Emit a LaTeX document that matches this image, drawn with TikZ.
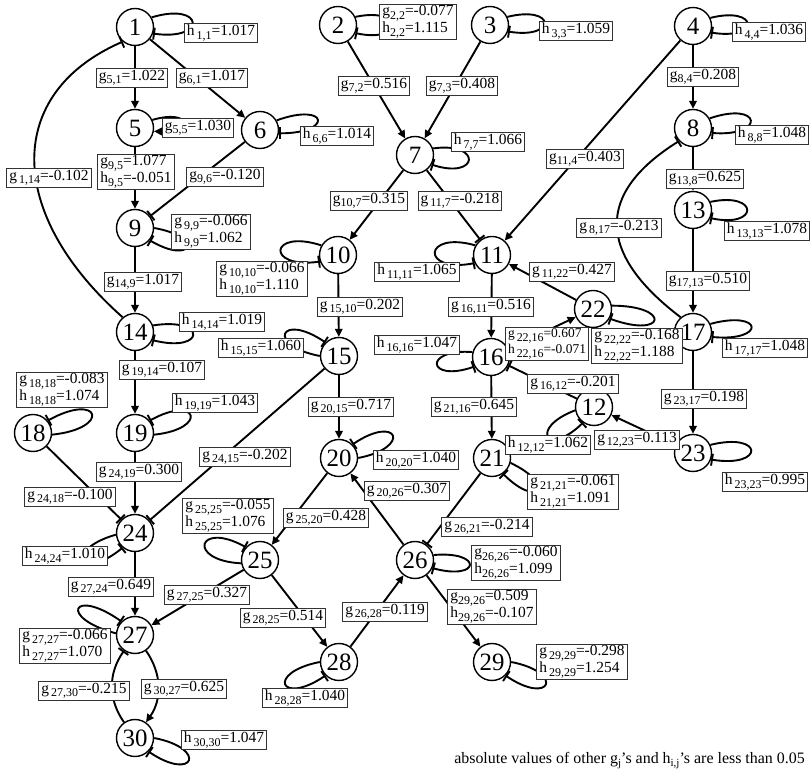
\documentclass[tikz,border=0pt]{standalone}
\usepackage{fontspec}
\setmainfont{Liberation Serif}
\usetikzlibrary{arrows.meta}
% subscripted coefficient: letter, indices, value (\gv with a small gap, \gw without)
\newcommand\sbs[1]{\raisebox{-3.5bp}{\fontsize{12}{12}\selectfont #1}}
\newcommand\gv[3]{#1\kern2bp\sbs{#2}=#3}
\newcommand\gw[3]{#1\sbs{#2}=#3}
\newcommand\ssb[1]{\raisebox{-3bp}{\fontsize{11}{11}\selectfont #1}}
% self loop: style, gene, start anchor, start direction, end anchor, end direction, reach
\newcommand\selfloop[7]{\draw[#1] (#2.#3) .. controls +(#4:#7) and +(#6:#7) .. (#2.#5);}
\begin{document}
\begin{tikzpicture}[x=1bp,y=1bp,
  nd/.style={circle,draw,fill=white,line width=1.4bp,minimum size=37bp,inner sep=0pt,font=\fontsize{25}{25}\selectfont},
  lbl/.style={draw=black!80,fill=white,line width=0.9bp,inner xsep=2.5bp,inner ysep=1.5bp,font=\fontsize{15.5}{13.5}\selectfont,align=left},
  act/.style={line width=1.9bp,-{Triangle[length=8bp,width=7.5bp]}},
  inh/.style={line width=1.9bp,-{Bar[width=12bp,line width=1.9bp]}}]
\useasboundingbox (0,0) rectangle (811,773);

% genes
\node[nd] (n1)  at (135,746) {1};
\node[nd] (n2)  at (338,748) {2};
\node[nd] (n3)  at (490,748) {3};
\node[nd] (n4)  at (693,747) {4};
\node[nd] (n5)  at (135,645) {5};
\node[nd] (n6)  at (260,643) {6};
\node[nd] (n7)  at (415,618) {7};
\node[nd] (n8)  at (693,645) {8};
\node[nd] (n9)  at (135,545) {9};
\node[nd] (n10) at (338,518) {10};
\node[nd] (n11) at (492,518) {11};
\node[nd] (n12) at (594,366) {12};
\node[nd] (n13) at (693,563) {13};
\node[nd] (n14) at (135,441) {14};
\node[nd] (n15) at (339,417) {15};
\node[nd] (n16) at (491,416) {16};
\node[nd] (n17) at (693,441) {17};
\node[nd] (n18) at (33,340)  {18};
\node[nd] (n19) at (135,340) {19};
\node[nd] (n20) at (339,315) {20};
\node[nd] (n21) at (492,315) {21};
\node[nd] (n22) at (593,464) {22};
\node[nd] (n23) at (693,320) {23};
\node[nd] (n24) at (135,240) {24};
\node[nd] (n25) at (260,213) {25};
\node[nd] (n26) at (415,213) {26};
\node[nd] (n27) at (135,138) {27};
\node[nd] (n28) at (339,111) {28};
\node[nd] (n29) at (492,111) {29};
\node[nd] (n30) at (135,35)  {30};

% regulations between genes
\draw[act] (n1) -- (n5);
\draw[act] (n1) -- (n6);
\draw[act] (n5) -- (n9);
\draw[inh] (n6) -- (n9);
\draw[inh] (n14.130) .. controls (5,560) and (5,680) .. (n1.-130);
\draw[act] (n2) -- (n7);
\draw[act] (n3) -- (n7);
\draw[act] (n4) -- (n8);
\draw[act] (n4) -- (n11);
\draw[act] (n8) -- (n13);
\draw[inh] (n17.130) .. controls (596,520) and (596,580) .. (n8.-137);
\draw[act] (n7) -- (n10);
\draw[inh] (n7) -- (n11);
\draw[act] (n9) -- (n14);
\draw[act] (n10) -- (n15);
\draw[act] (n11) -- (n16);
\draw[act] (n22) -- (n11);
\draw[act] (n16) -- (n22);
\draw[inh] (n12) -- (n16);
\draw[act] (n13) -- (n17);
\draw[act] (n14) -- (n19);
\draw[act] (n15) -- (n20);
\draw[act] (n16) -- (n21);
\draw[act] (n23) -- (n12);
\draw[act] (n17) -- (n23);
\draw[inh] (n18) -- (n24);
\draw[act] (n19) -- (n24);
\draw[inh] (n15) -- (n24);
\draw[act] (n20) -- (n25);
\draw[act] (n26) -- (n20);
\draw[inh] (n21) -- (n26);
\draw[act] (n24) -- (n27);
\draw[act] (n25) -- (n27);
\draw[act] (n25) -- (n28);
\draw[act] (n28) -- (n26);
\draw[act] (n26) -- (n29);
\draw[act] (n27) to[out=-55,in=55] (n30);
\draw[inh] (n30) to[out=125,in=-125] (n27);

% self regulation loops
\selfloop{inh}{n1}{30}{17}{-20}{-8}{55}
\selfloop{inh}{n2}{25}{12}{-25}{-12}{50}
\selfloop{inh}{n3}{25}{14}{-20}{-9}{50}
\selfloop{inh}{n4}{25}{14}{-20}{-9}{50}
\selfloop{act}{n5}{25}{16}{-10}{-1}{40}
\selfloop{inh}{n6}{30}{20}{-10}{0}{55}
\selfloop{inh}{n7}{20}{8}{-30}{-18}{50}
\selfloop{inh}{n8}{30}{19}{-15}{-4}{55}
\selfloop{inh}{n9}{0}{-10}{-40}{-30}{50}
\selfloop{inh}{n10}{150}{162}{200}{188}{55}
\selfloop{inh}{n11}{150}{164}{205}{191}{55}
\selfloop{inh}{n12}{190}{201}{235}{224}{50}
\selfloop{inh}{n13}{25}{12}{-25}{-12}{50}
\selfloop{inh}{n14}{20}{9}{-25}{-14}{55}
\selfloop{inh}{n15}{180}{169}{135}{146}{55}
\selfloop{inh}{n16}{165}{176}{210}{199}{50}
\selfloop{inh}{n17}{25}{15}{-15}{-5}{55}
\selfloop{inh}{n18}{-5}{6}{40}{29}{60}
\selfloop{inh}{n19}{-5}{6}{40}{29}{55}
\selfloop{inh}{n20}{0}{11}{45}{34}{55}
\selfloop{inh}{n21}{-15}{-25}{-55}{-45}{50}
\selfloop{inh}{n22}{10}{0}{-30}{-20}{60}
\selfloop{inh}{n23}{25}{14}{-20}{-9}{55}
\selfloop{inh}{n24}{185}{196}{230}{219}{55}
\selfloop{inh}{n25}{190}{177}{138}{151}{55}
\selfloop{inh}{n26}{15}{5}{-25}{-15}{50}
\selfloop{inh}{n27}{175}{165}{135}{145}{60}
\selfloop{inh}{n28}{180}{191}{225}{214}{55}
\selfloop{inh}{n29}{0}{-11}{-45}{-34}{55}
\selfloop{inh}{n30}{0}{-11}{-45}{-34}{55}

% self regulation coefficients
\node[lbl] (s1)  at (221,740) {\gv{h}{1,1}{1.017}};
\node[lbl] (s2)  at (418,751) {\gw{g}{2,2}{-0.077}\\\gw{h}{2,2}{1.115}};
\node[lbl] (s3)  at (576,742) {\gv{h}{3,3}{1.059}};
\node[lbl] (s4)  at (769,741) {\gv{h}{4,4}{1.036}};
\node[lbl] (s5)  at (198,645) {\gw{g}{5,5}{1.030}};
\node[lbl] (s6)  at (337,637) {\gv{h}{6,6}{1.014}};
\node[lbl] (s7)  at (488,631) {\gv{h}{7,7}{1.066}};
\node[lbl] (s8)  at (772,638) {\gv{h}{8,8}{1.048}};
\node[lbl] (s9)  at (211,541) {\gv{g}{9,9}{-0.066}\\\gv{h}{9,9}{1.062}};
\node[lbl] (s10) at (262,494) {\gv{g}{10,10}{-0.066}\\\gv{h}{10,10}{1.110}};
\node[lbl] (s11) at (417,501) {\gv{h}{11,11}{1.065}};
\node[lbl] (s12) at (548,328) {\gv{h}{12,12}{1.062}};
\node[lbl] (s13) at (767,542) {\gv{h}{13,13}{1.078}};
\node[lbl] (s14) at (222,451) {\gv{h}{14,14}{1.019}};
\node[lbl] (s15) at (261,425) {\gv{h}{15,15}{1.060}};
\node[lbl] (s16) at (417,428) {\gv{h}{16,16}{1.047}};
\node[lbl] (s17) at (765,425) {\gv{h}{17,17}{1.048}};
\node[lbl] (s18) at (62,383)  {\gv{g}{18,18}{-0.083}\\\gv{h}{18,18}{1.074}};
\node[lbl] (s19) at (215,370) {\gv{h}{19,19}{1.043}};
\node[lbl] (s20) at (416,313) {\gv{h}{20,20}{1.040}};
\node[lbl] (s21) at (573,281) {\gv{g}{21,21}{-0.061}\\\gv{h}{21,21}{1.091}};
\node[lbl] (s22) at (637,427) {\gv{g}{22,22}{-0.168}\\\gv{h}{22,22}{1.188}};
\node[lbl] (s23) at (765,291) {\gv{h}{23,23}{0.995}};
\node[lbl] (s24) at (65,217)  {\gv{h}{24,24}{1.010}};
\node[lbl] (s25) at (228,257) {\gv{g}{25,25}{-0.055}\\\gv{h}{25,25}{1.076}};
\node[lbl] (s26) at (516,210) {\gw{g}{26,26}{-0.060}\\\gw{h}{26,26}{1.099}};
\node[lbl] (s27) at (65,127)  {\gv{g}{27,27}{-0.066}\\\gv{h}{27,27}{1.070}};
\node[lbl] (s28) at (305,75)  {\gv{h}{28,28}{1.040}};
\node[lbl] (s29) at (582,111) {\gv{g}{29,29}{-0.298}\\\gv{h}{29,29}{1.254}};
\node[lbl] (s30) at (224,33)  {\gv{h}{30,30}{1.047}};

% regulation coefficients
\node[lbl] (e51)   at (132,695) {\gw{g}{5,1}{1.022}};
\node[lbl] (e61)   at (212,695) {\gw{g}{6,1}{1.017}};
\node[lbl] (e95)   at (136,601) {\gw{g}{9,5}{1.077}\\\gw{h}{9,5}{-0.051}};
\node[lbl] (e96)   at (225,596) {\gw{g}{9,6}{-0.120}};
\node[lbl] (e114)  at (49,595)  {\gv{g}{1,14}{-0.102}};
\node[lbl] (e72)   at (374,687) {\gw{g}{7,2}{0.516}};
\node[lbl] (e73)   at (462,687) {\gw{g}{7,3}{0.408}};
\node[lbl] (e84)   at (703,696) {\gw{g}{8,4}{0.208}};
\node[lbl] (e114b) at (585,614) {\gw{g}{11,4}{0.403}};
\node[lbl] (e138)  at (705,594) {\gw{g}{13,8}{0.625}};
\node[lbl] (e817)  at (619,545) {\gv{g}{8,17}{-0.213}};
\node[lbl] (e107)  at (369,572) {\gw{g}{10,7}{0.315}};
\node[lbl] (e117)  at (460,572) {\gv{g}{11,7}{-0.218}};
\node[lbl] (e149)  at (143,491) {\gw{g}{14,9}{1.017}};
\node[lbl] (e1510) at (360,466) {\gv{g}{15,10}{0.202}};
\node[lbl] (e1611) at (491,466) {\gv{g}{16,11}{0.516}};
\node[lbl] (e1122) at (572,501) {\gv{g}{11,22}{0.427}};
\node[lbl,font=\fontsize{13.5}{12.5}\selectfont] (e2216) at (547,429) {\gv{g}{22,16}{0.607}\\\gv{h}{22,16}{-0.071}};
\node[lbl] (e1612) at (573,389) {\gv{g}{16,12}{-0.201}};
\node[lbl] (e1713) at (708,492) {\gw{g}{17,13}{0.510}};
\node[lbl] (e1914) at (162,403) {\gv{g}{19,14}{0.107}};
\node[lbl] (e2015) at (351,366) {\gv{g}{20,15}{0.717}};
\node[lbl] (e2116) at (474,366) {\gv{g}{21,16}{0.645}};
\node[lbl] (e1223) at (637,333) {\gv{g}{12,23}{0.113}};
\node[lbl] (e2317) at (704,374) {\gv{g}{23,17}{0.198}};
\node[lbl] (e2418) at (70,276)  {\gv{g}{24,18}{-0.100}};
\node[lbl] (e2419) at (139,301) {\gv{g}{24,19}{0.300}};
\node[lbl] (e2415) at (245,316) {\gv{g}{24,15}{-0.202}};
\node[lbl] (e2520) at (326,255) {\gv{g}{25,20}{0.428}};
\node[lbl] (e2026) at (407,282) {\gv{g}{20,26}{0.307}};
\node[lbl] (e2621) at (487,246) {\gv{g}{26,21}{-0.214}};
\node[lbl] (e2724) at (111,186) {\gv{g}{27,24}{0.649}};
\node[lbl] (e2725) at (207,178) {\gv{g}{27,25}{0.327}};
\node[lbl] (e2825) at (283,155) {\gv{g}{28,25}{0.514}};
\node[lbl] (e2628) at (385,161) {\gv{g}{26,28}{0.119}};
\node[lbl] (e2926) at (492,166) {\gw{g}{29,26}{0.509}\\\gw{h}{29,26}{-0.107}};
\node[lbl] (e3027) at (184,84)  {\gv{g}{30,27}{0.625}};
\node[lbl] (e2730) at (84,82)   {\gv{g}{27,30}{-0.215}};

\node[anchor=east,inner sep=0pt,font=\fontsize{16}{16}\selectfont] (note) at (805,12)
  {absolute values of other g\ssb{j}’s and h\ssb{i,j}’s are less than 0.05};
\end{tikzpicture}
\end{document}
